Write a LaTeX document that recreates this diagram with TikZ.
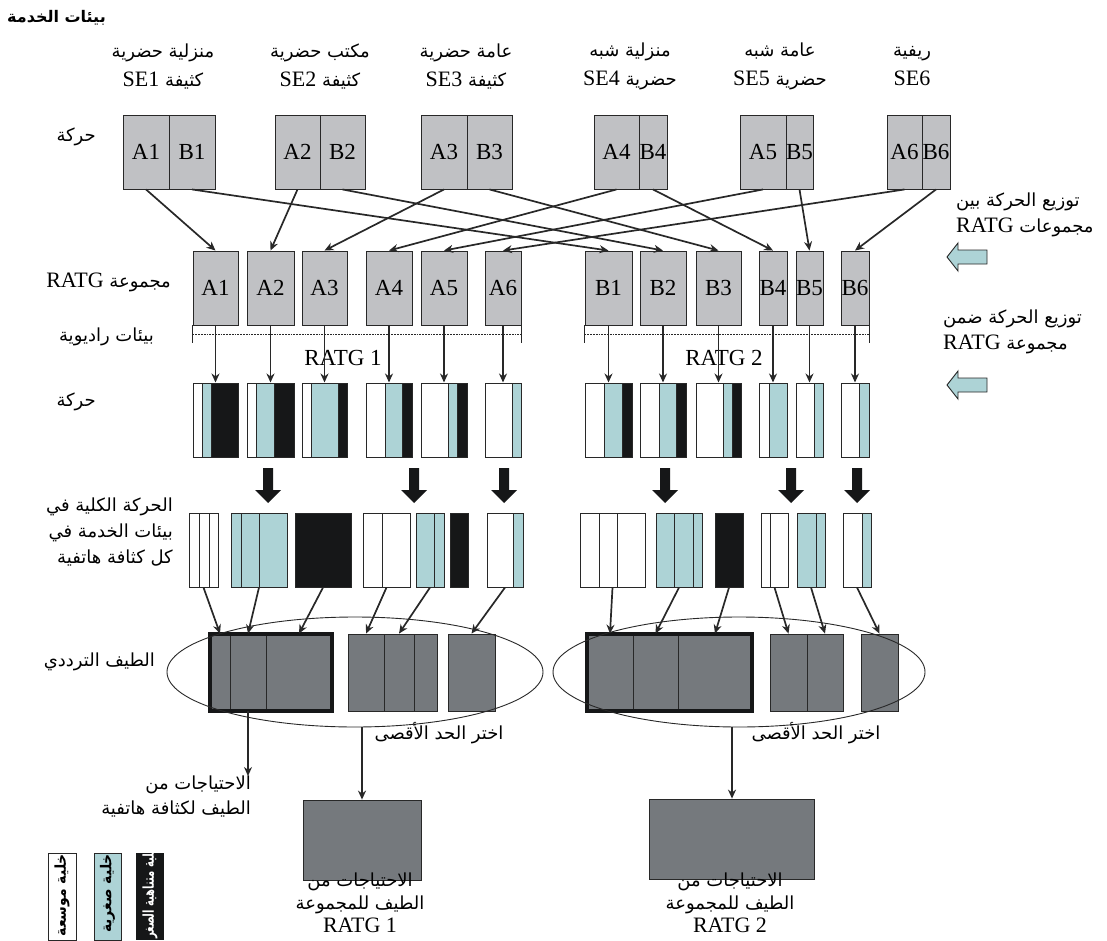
\documentclass[tikz,border=0pt]{standalone}
\usepackage{fontspec}
\setmainfont{Liberation Serif}
\newfontfamily\arabicfont[Script=Arabic]{DejaVu Sans}
\usepackage{tikz}
\usetikzlibrary{arrows.meta,positioning,shapes.geometric,calc}
\TeXXeTstate=1
\definecolor{boxgray}{RGB}{192,193,196}
\definecolor{specgray}{RGB}{117,121,125}
\definecolor{cellblue}{RGB}{173,211,214}
\definecolor{cellblack}{RGB}{22,23,24}
\definecolor{linegray}{RGB}{40,40,40}
\newcommand{\arline}[1]{\beginR #1\endR}
\newcommand{\latw}[1]{\beginL{\rmfamily\fontsize{22}{24}\selectfont #1}\endL}
\tikzset{
  envbox/.style={
    draw=linegray,
    fill=boxgray,
    line width=0.9pt,
    minimum height=74pt,
    inner sep=0pt,
    font=\fontsize{23}{25}\selectfont
  },
  cellbox/.style={
    draw=linegray,
    line width=1pt,
    minimum height=74pt,
    inner sep=0pt
  },
  specbox/.style={
    draw=linegray,
    fill=specgray,
    line width=0.8pt,
    minimum height=77pt,
    inner sep=0pt
  },
  flowarrow/.style={
    -{Stealth[length=9pt,width=8pt]},
    line width=1.7pt,
    draw=linegray
  },
  arlabel/.style={
    font=\arabicfont\fontsize{18}{28}\selectfont,
    inner sep=0pt
  },
  latlabel/.style={
    font=\fontsize{23}{25}\selectfont,
    inner sep=0pt
  },
  stripline/.style={
    draw=linegray,
    line width=1pt
  },
  legendtext/.style={
    font=\arabicfont\bfseries\fontsize{15}{17}\selectfont,
    inner sep=0pt,
    rotate=90
  }
}

\begin{document}
\begin{tikzpicture}[x=1pt, y=-1pt]
  \useasboundingbox (0,0) rectangle (1107,941);

  % service environments
  \node[arlabel, anchor=west, font=\arabicfont\bfseries\fontsize{16}{18}\selectfont] (title) at (7,18) {\arline{بيئات الخدمة}};
  \node[arlabel, align=center, font=\arabicfont\fontsize{18}{29}\selectfont] (se1) at (163,66) {\arline{منزلية حضرية}\\\arline{كثيفة \latw{SE1}}};
  \node[arlabel, align=center, font=\arabicfont\fontsize{18}{29}\selectfont] (se2) at (320,66) {\arline{مكتب حضرية}\\\arline{كثيفة \latw{SE2}}};
  \node[arlabel, align=center, font=\arabicfont\fontsize{18}{29}\selectfont] (se3) at (466,66) {\arline{عامة حضرية}\\\arline{كثيفة \latw{SE3}}};
  \node[arlabel, align=center, font=\arabicfont\fontsize{18}{29}\selectfont] (se4) at (630,66) {\arline{منزلية شبه}\\\arline{حضرية \latw{SE4}}};
  \node[arlabel, align=center, font=\arabicfont\fontsize{18}{29}\selectfont] (se5) at (780,66) {\arline{عامة شبه}\\\arline{حضرية \latw{SE5}}};
  \node[arlabel, align=center, font=\arabicfont\fontsize{18}{29}\selectfont] (se6) at (912,66) {\arline{ريفية}\\\latw{SE6}};

  \foreach \i/\xl/\xm/\xr in {1/123/169/215, 2/275/320/365, 3/421/467/512, 4/594/639/667, 5/740/786/813, 6/887/922/950} {
    \node[envbox, minimum width={(\xm-\xl)*1pt}] (ta\i) at ({(\xl+\xm)/2},152) {A\i};
    \node[envbox, minimum width={(\xr-\xm)*1pt}] (tb\i) at ({(\xm+\xr)/2},152) {B\i};
  }

  % RATG groups
  \foreach \i/\xl/\xr in {1/193/238, 2/247/294, 3/302/347, 4/366/412, 5/421/467, 6/485/521}
    \node[envbox, minimum width={(\xr-\xl)*1pt}] (ga\i) at ({(\xl+\xr)/2},288) {A\i};
  \foreach \i/\xl/\xr in {1/585/632, 2/640/686, 3/696/741, 4/759/787, 5/796/823, 6/841/869}
    \node[envbox, minimum width={(\xr-\xl)*1pt}] (gb\i) at ({(\xl+\xr)/2},288) {B\i};

  \foreach \i in {1,...,6} {
    \draw[flowarrow] (ta\i.south) -- (ga\i.north);
    \draw[flowarrow] (tb\i.south) -- (gb\i.north);
  }

  \draw[linegray, line width=1.6pt] (ga1.south west) -- ++(0,18);
  \draw[linegray, line width=1.6pt] (ga6.south east) -- ++(0,18);
  \draw[linegray, line width=1.8pt, densely dotted] ($(ga1.south west)+(0,9)$) -- ($(ga6.south east)+(0,9)$);
  \draw[linegray, line width=1.6pt] (gb1.south west) -- ++(0,18);
  \draw[linegray, line width=1.6pt] (gb6.south east) -- ++(0,18);
  \draw[linegray, line width=1.8pt, densely dotted] ($(gb1.south west)+(0,9)$) -- ($(gb6.south east)+(0,9)$);
  \node[latlabel] (ratg1) at (343,358) {RATG 1};
  \node[latlabel] (ratg2) at (724,358) {RATG 2};

  % traffic per cell layer
  \foreach \n/\xl/\xa/\xb/\xr in {a1/193/202/211/238, a2/247/256/274/294, a3/302/311/338/347, a4/366/385/402/412, a5/421/448/457/467, a6/485/512/521/521,
      b1/585/604/622/632, b2/640/659/676/686, b3/696/723/732/741, b4/759/769/787/787, b5/796/814/823/823, b6/841/859/869/869} {
    \fill[white] (\xl,383) rectangle (\xa,457);
    \fill[cellblue] (\xa,383) rectangle (\xb,457);
    \fill[cellblack] (\xb,383) rectangle (\xr,457);
    \draw[stripline] (\xa,383) -- (\xa,457) (\xb,383) -- (\xb,457);
    \node[cellbox, minimum width={(\xr-\xl)*1pt}] (r\n) at ({(\xl+\xr)/2},420) {};
    \draw[flowarrow] (g\n.south) -- (r\n.north);
  }

  \foreach \x in {268,414,504,665,791,857}
    \fill[cellblack] (\x-5,468) -- (\x+5,468) -- (\x+5,490) -- (\x+13,490) -- (\x,503) -- (\x-13,490) -- (\x-5,490) -- cycle;

  % total traffic per service environment
  \foreach \n/\xl/\xr/\col in {a1/189/218/white, a2/231/287/cellblue, a3/295/351/cellblack, a4/363/410/white, a5/416/444/cellblue, a6/450/468/cellblack, a7/487/523/white,
      b1/580/645/white, b2/656/702/cellblue, b3/715/743/cellblack, b4/761/788/white, b5/797/825/cellblue, b6/843/871/white}
    \fill[\col] (\xl,513) rectangle (\xr,587);
  \fill[cellblue] (513,513) rectangle (523,587);
  \fill[cellblue] (862,513) rectangle (871,587);
  \foreach \x in {199,209,241,259,382,434,513,599,617,674,693,770,816,862}
    \draw[stripline] (\x,513) -- (\x,587);
  \foreach \n/\xl/\xr in {a1/189/218, a2/231/287, a3/295/351, a4/363/410, a5/416/444, a6/450/468, a7/487/523,
      b1/580/645, b2/656/702, b3/715/743, b4/761/788, b5/797/825, b6/843/871}
    \node[cellbox, minimum width={(\xr-\xl)*1pt}] (s\n) at ({(\xl+\xr)/2},550) {};

  % spectrum
  \foreach \n/\xl/\xr in {a1/210/230, a2/230/266, a3/266/332, a4/348/384, a5/384/414, a6/414/437, a7/448/495,
      b1/587/633, b2/633/678, b3/678/752, b4/770/807, b5/807/843, b6/861/898}
    \node[specbox, minimum width={(\xr-\xl)*1pt}] (f\n) at ({(\xl+\xr)/2},672.5) {};
  \draw[cellblack, line width=4pt] (fa1.north west) rectangle (fa3.south east);
  \draw[cellblack, line width=4pt] (fb1.north west) rectangle (fb3.south east);

  \foreach \n in {a1,a2,a3,a4,a5,a7,b1,b2,b3,b4,b5,b6}
    \draw[flowarrow] (s\n.south) -- (f\n.north);

  \node[draw=linegray, ellipse, line width=0.9pt, minimum width=376pt, minimum height=110pt] (speca) at (355,672) {};
  \node[draw=linegray, ellipse, line width=0.9pt, minimum width=372pt, minimum height=110pt] (specb) at (739,672) {};
  \node[arlabel] (maxa) at (439,733) {\arline{اختر الحد الأقصى}};
  \node[arlabel] (maxb) at (816,733) {\arline{اختر الحد الأقصى}};

  % requirements
  \node[arlabel, anchor=north east, align=right, font=\arabicfont\fontsize{18}{25}\selectfont] (needa) at (251,776) {\arline{الاحتياجات من}\\\arline{الطيف لكثافة هاتفية}};
  \draw[flowarrow] (fa2.south) -- (fa2.south |- needa.north);

  \node[specbox, minimum width=118pt, minimum height=80pt] (tota) at (362,840) {};
  \node[specbox, minimum width=165pt, minimum height=80pt] (totb) at (732,839) {};
  \draw[flowarrow] (speca.south -| tota.north) -- (tota.north);
  \draw[flowarrow] (specb.south -| totb.north) -- (totb.north);
  \node[arlabel, anchor=north, align=center, font=\arabicfont\fontsize{18}{23}\selectfont] (reqa) at (360,873) {\arline{الاحتياجات من}\\\arline{الطيف للمجموعة}\\\latw{RATG 1}};
  \node[arlabel, anchor=north, align=center, font=\arabicfont\fontsize{18}{23}\selectfont] (reqb) at (730,873) {\arline{الاحتياجات من}\\\arline{الطيف للمجموعة}\\\latw{RATG 2}};

  % row labels
  \node[arlabel, anchor=east] (lbltraffic) at (96,137) {\arline{حركة}};
  \node[arlabel, anchor=east] (lblgroup) at (171,282) {\arline{مجموعة \latw{RATG}}};
  \node[arlabel, anchor=east] (lblradio) at (154,337) {\arline{بيئات راديوية}};
  \node[arlabel, anchor=east] (lblcell) at (96,402) {\arline{حركة}};
  \node[arlabel, anchor=east, align=right, font=\arabicfont\fontsize{18}{26}\selectfont] (lbltotal) at (173,532) {\arline{الحركة الكلية في}\\\arline{بيئات الخدمة في}\\\arline{كل كثافة هاتفية}};
  \node[arlabel, anchor=east] (lblspec) at (155,662) {\arline{الطيف الترددي}};

  % distribution notes
  \node[arlabel, anchor=north west, align=left, font=\arabicfont\fontsize{18}{26}\selectfont] (distgroups) at (956,193) {\arline{توزيع الحركة بين}\\\arline{مجموعات \latw{RATG}}};
  \node[arlabel, anchor=north west, align=left, font=\arabicfont\fontsize{18}{26}\selectfont] (distcells) at (943,310) {\arline{توزيع الحركة ضمن}\\\arline{مجموعة \latw{RATG}}};
  \foreach \y in {257,385}
    \draw[linegray, line width=0.9pt, fill=cellblue] (947,\y) -- (958,\y-14) -- (958,\y-7) -- (987,\y-7) -- (987,\y+7) -- (958,\y+7) -- (958,\y+14) -- cycle;

  % legend
  \draw[linegray, line width=0.9pt, fill=white] (48,853) rectangle (76,940);
  \draw[linegray, line width=0.9pt, fill=cellblue] (94,853) rectangle (121,940);
  \fill[cellblack] (136,853) rectangle (164,940);
  \node[legendtext, anchor=east, xscale=0.93] (macro) at (62,854) {\arline{خلية موسعة}};
  \node[legendtext, anchor=east, xscale=0.93] (micro) at (107.5,854) {\arline{خلية صغرية}};
  \begin{scope}
    \clip (136,853) rectangle (164,940);
    \node[legendtext, anchor=west, xscale=0.67, text=white] (pico) at (150,939) {\arline{خلية متناهية الصغر}};
  \end{scope}
\end{tikzpicture}
\end{document}
